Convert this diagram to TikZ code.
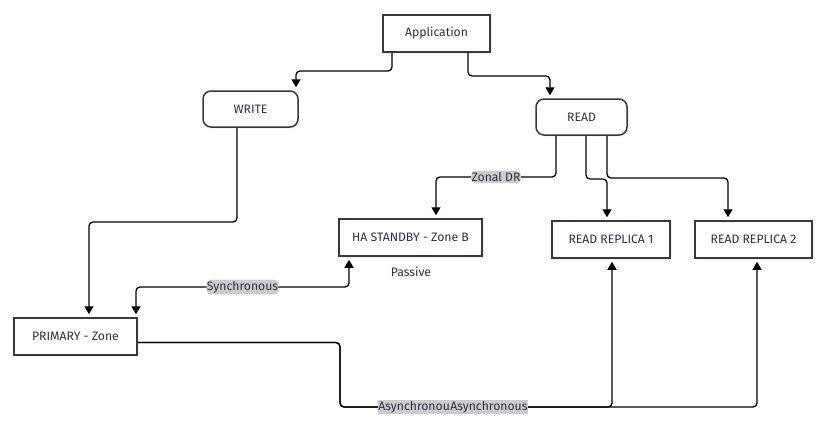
\documentclass[tikz,border=0pt]{standalone}
\usepackage{fontspec}
\setmainfont{Fira Sans}
\usetikzlibrary{arrows.meta,shadows}
\definecolor{txt}{RGB}{45,45,75}
\definecolor{bord}{RGB}{55,55,70}
\definecolor{lblbg}{RGB}{204,204,204}
\tikzset{
  box/.style={draw=bord,line width=1.5pt,fill=white,text=txt,font=\fontsize{12.2}{14}\selectfont,inner sep=0pt,
    drop shadow={shadow xshift=1.5pt,shadow yshift=-1.5pt,opacity=0.12}},
  rbox/.style={box,rounded corners=8pt},
  conn/.style={draw=black,line width=1.3pt,rounded corners=4pt,-{Triangle[length=8pt,width=9pt]},shorten >=3pt},
  lbl/.style={fill=lblbg,text=txt,font=\fontsize{12.2}{14}\selectfont,inner xsep=0.3pt,inner ysep=1.5pt},
  plain/.style={text=txt,font=\fontsize{12.2}{14}\selectfont}
}
\begin{document}
\begin{tikzpicture}[x=1pt,y=-1pt]
\useasboundingbox (0,0) rectangle (817,426);
\node[box,minimum width=107pt,minimum height=37pt] (app) at (436.5,33.5) {Application};
\node[rbox,minimum width=95pt,minimum height=36pt] (write) at (250.5,109) {WRITE};
\node[rbox,minimum width=91pt,minimum height=36pt] (read) at (581.5,117) {READ};
\node[box,minimum width=143pt,minimum height=37pt] (ha) at (410.5,237.5) {HA STANDBY - Zone B};
\node[plain] (passive) at (411,272) {Passive};
\node[box,minimum width=118pt,minimum height=37pt] (rr1) at (611,239.5) {READ REPLICA 1};
\node[box,minimum width=117pt,minimum height=37pt] (rr2) at (753.5,239.5) {READ REPLICA 2};
\node[box,minimum width=123pt,minimum height=37pt] (prim) at (75.5,336.5) {PRIMARY - Zone};

\draw[conn] ([xshift=-44.5pt]app.south) |- (296,71) -- ([xshift=45.5pt]write.north);
\draw[conn] ([xshift=31.5pt]app.south) |- (550,76) -- ([xshift=-31.5pt]read.north);
\draw[conn] ([xshift=-25.5pt]read.south) |- node[lbl,pos=0.75]{Zonal DR} (436,177) -- ([xshift=25.5pt]ha.north);
\draw[conn] ([xshift=4.5pt]read.south) |- (607,179) -- ([xshift=-4pt]rr1.north);
\draw[conn] ([xshift=25.5pt]read.south) |- (728,178) -- ([xshift=-25.5pt]rr2.north);
\draw[conn] ([xshift=-13.5pt]write.south) |- (89,222) -- ([xshift=13.5pt]prim.north);
\draw[conn,{Triangle[length=8pt,width=9pt]}-{Triangle[length=8pt,width=9pt]},shorten <=3pt] ([xshift=60.5pt]prim.north) |- node[lbl,pos=0.75]{Synchronous} (349,287) -- ([xshift=-61.5pt]ha.south);
\draw[conn] ([yshift=-6pt]prim.east) -- (340,342.5) -- (340,407) -- (612,407) -- ([xshift=1pt]rr1.south);
\draw[conn] ([yshift=-6pt]prim.east) -- (340,342.5) -- (340,407) -- (757,407) -- ([xshift=3.5pt]rr2.south);
\path (340,407) -- node[lbl,pos=0.283]{Asynchronous} (612,407);
\path (340,407) -- node[lbl,pos=0.357]{Asynchronous} (757,407);
\end{tikzpicture}
\end{document}
